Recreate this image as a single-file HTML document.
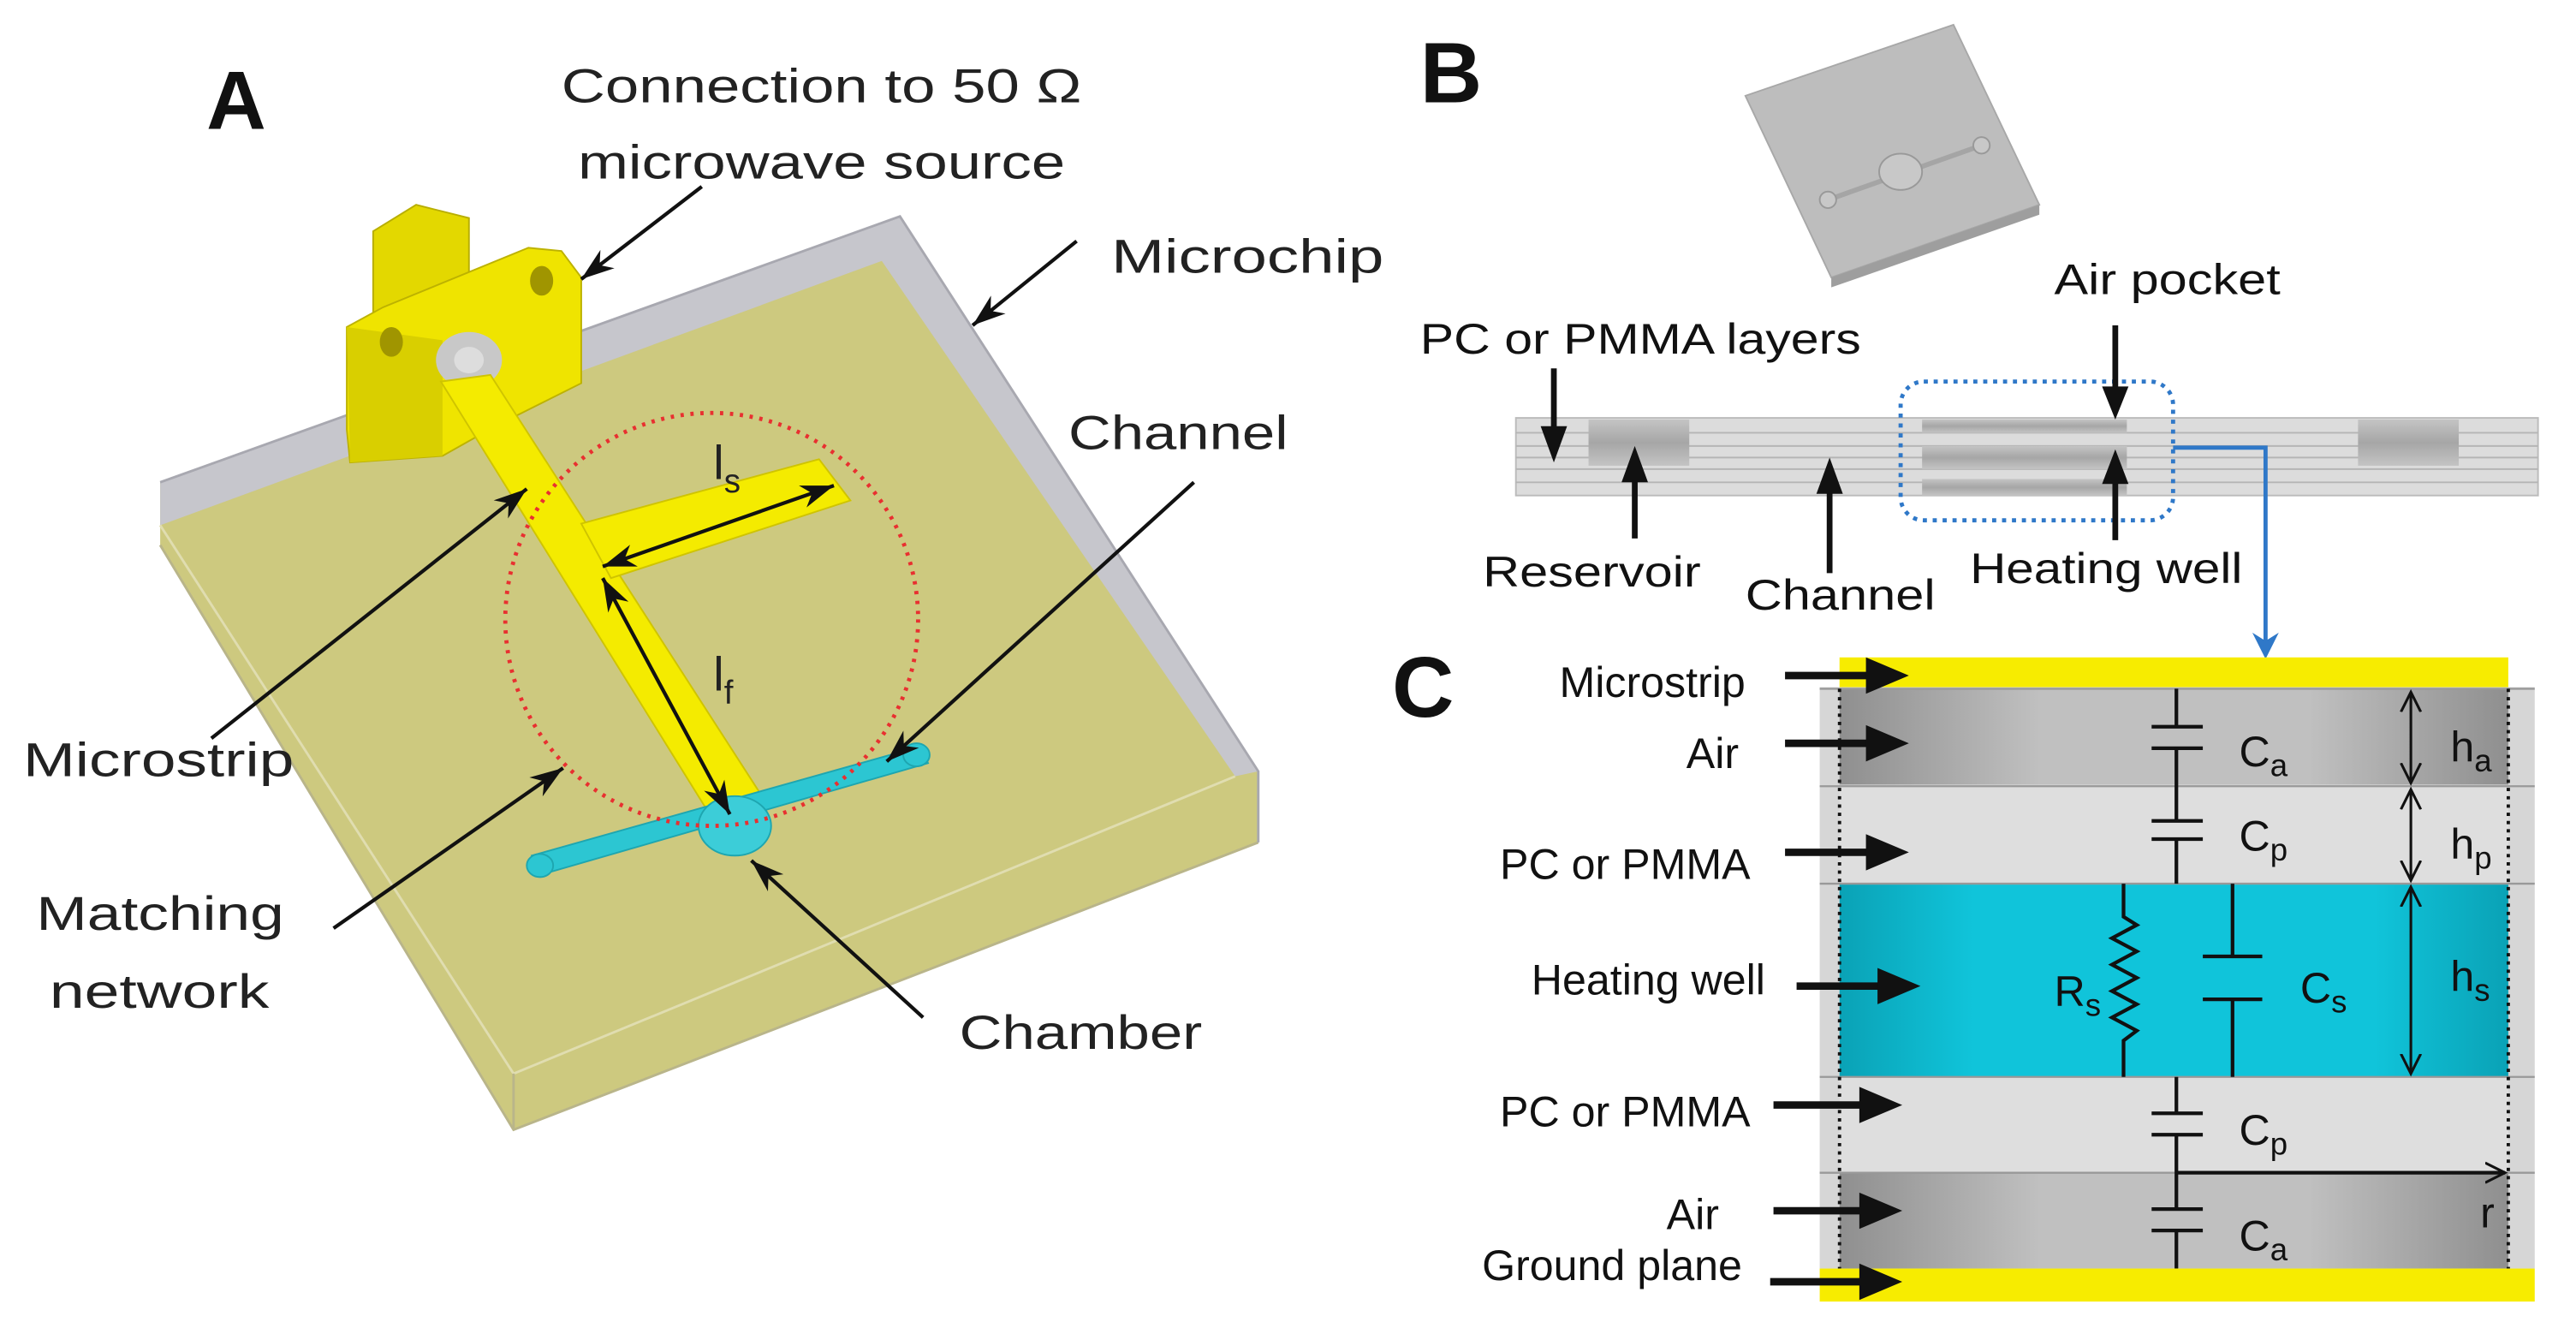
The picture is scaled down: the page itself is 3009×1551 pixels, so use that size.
<!DOCTYPE html>
<html><head><meta charset="utf-8"><style>
html,body{margin:0;padding:0;background:#fff}
svg{display:block}
.a{font-family:"Liberation Sans",sans-serif;font-size:29px;fill:#222}
.b{font-family:"Liberation Sans",sans-serif;font-size:26px;fill:#111}
</style></head><body>
<svg width="3009" height="1551" viewBox="0 0 1560 804" preserveAspectRatio="none" xmlns="http://www.w3.org/2000/svg">
<defs>
<marker id="ah" markerUnits="userSpaceOnUse" markerWidth="22" markerHeight="16" refX="20" refY="8" orient="auto"><path d="M0,1 L20,8 L0,15 L6,8 Z" fill="#111"/></marker>
<marker id="ah2" markerUnits="userSpaceOnUse" markerWidth="22" markerHeight="16" refX="20" refY="8" orient="auto-start-reverse"><path d="M0,1 L20,8 L0,15 L6,8 Z" fill="#111"/></marker>
<marker id="hv" markerUnits="userSpaceOnUse" markerWidth="14" markerHeight="14" refX="12" refY="7" orient="auto-start-reverse"><path d="M0,1 L12,7 L0,13" fill="none" stroke="#111" stroke-width="1.6"/></marker>
<marker id="bl" markerUnits="userSpaceOnUse" markerWidth="16" markerHeight="18" refX="8" refY="16" orient="0"><path d="M0,0 L8,16 L16,0 L8,5 Z" fill="#2f78c8"/></marker>
<linearGradient id="air" x1="0" x2="1"><stop offset="0" stop-color="#8f8f8f"/><stop offset="0.3" stop-color="#c0c0c0"/><stop offset="0.7" stop-color="#c0c0c0"/><stop offset="1" stop-color="#8f8f8f"/></linearGradient>
<linearGradient id="cy" x1="0" x2="1"><stop offset="0" stop-color="#0aa2b6"/><stop offset="0.2" stop-color="#10c4da"/><stop offset="0.8" stop-color="#10c4da"/><stop offset="1" stop-color="#0aa2b6"/></linearGradient>
<linearGradient id="res" x1="0" y1="0" x2="0" y2="1"><stop offset="0" stop-color="#c4c4c4"/><stop offset="0.5" stop-color="#a6a6a6"/><stop offset="1" stop-color="#c4c4c4"/></linearGradient>
</defs>

<!-- PANEL A -->
<text x="125" y="78" font-family="Liberation Sans,sans-serif" font-weight="bold" font-size="50" fill="#111">A</text>
<text class="a" x="340" y="62" textLength="315" lengthAdjust="spacingAndGlyphs">Connection to 50 Ω</text>
<text class="a" x="350" y="108" textLength="295" lengthAdjust="spacingAndGlyphs">microwave source</text>

<!-- chip -->
<polygon points="97,292 545,131 762,467 762,510 311,684 97,330" fill="#cdc97f"/>
<polygon points="97,292 545,131 762,467 748,470 534,158 97,318" fill="#c6c6cc"/>
<polyline points="97,330 311,684 762,510" fill="none" stroke="#b9b58a" stroke-width="1.5"/>
<polyline points="97,318 311,650 748,470" fill="none" stroke="#e0ddb0" stroke-width="1.5"/>
<line x1="311" y1="650" x2="311" y2="684" stroke="#b9b58a" stroke-width="1.5"/>
<polyline points="97,292 545,131 762,467 762,510" fill="none" stroke="#a8a8b0" stroke-width="1.5"/>

<!-- connector -->
<polygon points="226,140 252,124 284,132 284,190 258,200 226,190" fill="#e3d800" stroke="#b8ae00" stroke-width="1"/>
<polygon points="210,198 232,186 320,150 340,152 352,168 352,232 300,258 268,276 212,280 210,260" fill="#efe400" stroke="#bdb200" stroke-width="1"/>
<polygon points="210,198 268,206 268,276 212,280" fill="#d9cf00"/>
<ellipse cx="237" cy="207" rx="7" ry="9" fill="#a09500"/>
<ellipse cx="328" cy="170" rx="7" ry="9" fill="#a09500"/>
<ellipse cx="284" cy="218" rx="20" ry="17" fill="#c8c8c8"/>
<ellipse cx="284" cy="218" rx="9" ry="8" fill="#ddd"/>

<!-- microstrip -->
<polygon points="267,231 297,227 464,486 431,495" fill="#f4eb00" stroke="#cfc400" stroke-width="1"/>
<polygon points="352,317 496,278 515,303 370,350" fill="#f4eb00" stroke="#cfc400" stroke-width="1"/>
<!-- channel -->
<polygon points="322,518 557,452 562,462 326,530" fill="#2cc6d2" stroke="#1ea6b0" stroke-width="1"/>
<ellipse cx="327" cy="524" rx="8" ry="7" fill="#2cc6d2" stroke="#1ea6b0"/>
<ellipse cx="555" cy="457" rx="8" ry="7" fill="#2cc6d2" stroke="#1ea6b0"/>
<ellipse cx="445" cy="500" rx="22" ry="18" fill="#3ccdd8" stroke="#1ea6b0"/>

<circle cx="431" cy="375" r="125" fill="none" stroke="#e83030" stroke-width="2.5" stroke-dasharray="2,4"/>
<line x1="365" y1="343" x2="505" y2="294" stroke="#111" stroke-width="2.2" marker-start="url(#ah2)" marker-end="url(#ah2)"/>
<line x1="365" y1="350" x2="442" y2="493" stroke="#111" stroke-width="2.2" marker-start="url(#ah2)" marker-end="url(#ah2)"/>
<text class="a" x="432" y="290">l<tspan font-size="20" dy="8">s</tspan></text>
<text class="a" x="432" y="418">l<tspan font-size="20" dy="8">f</tspan></text>

<g stroke="#111" stroke-width="2.2" marker-end="url(#ah)">
<line x1="425" y1="113" x2="352" y2="169"/>
<line x1="652" y1="146" x2="589" y2="197"/>
<line x1="723" y1="292" x2="537" y2="461"/>
<line x1="128" y1="447" x2="319" y2="296"/>
<line x1="202" y1="562" x2="341" y2="465"/>
<line x1="559" y1="616" x2="455" y2="521"/>
</g>
<text class="a" x="673" y="165" textLength="165" lengthAdjust="spacingAndGlyphs">Microchip</text>
<text class="a" x="647" y="272" textLength="133" lengthAdjust="spacingAndGlyphs">Channel</text>
<text class="a" x="14" y="470" textLength="164" lengthAdjust="spacingAndGlyphs">Microstrip</text>
<text class="a" x="22" y="563" textLength="150" lengthAdjust="spacingAndGlyphs">Matching</text>
<text class="a" x="30" y="610" textLength="133" lengthAdjust="spacingAndGlyphs">network</text>
<text class="a" x="581" y="635" textLength="147" lengthAdjust="spacingAndGlyphs">Chamber</text>

<!-- PANEL B -->
<text x="860" y="62" font-family="Liberation Sans,sans-serif" font-weight="bold" font-size="52" fill="#111">B</text>
<polygon points="1057,58 1183,15 1235,124 1109,168" fill="#bdbdbd" stroke="#a8a8a8"/>
<polygon points="1109,168 1235,124 1235,130 1109,174" fill="#9e9e9e"/>
<line x1="1107" y1="121" x2="1200" y2="88" stroke="#a5a5a5" stroke-width="3"/>
<ellipse cx="1151" cy="104" rx="13" ry="11" fill="#c8c8c8" stroke="#999"/>
<ellipse cx="1107" cy="121" rx="5" ry="5" fill="#c8c8c8" stroke="#999"/>
<ellipse cx="1200" cy="88" rx="5" ry="5" fill="#c8c8c8" stroke="#999"/>

<rect x="918" y="253" width="619" height="47" fill="#dcdcdc" stroke="#bbb"/>
<g stroke="#b5b5b5" stroke-width="1">
<line x1="918" y1="262" x2="1537" y2="262"/><line x1="918" y1="270" x2="1537" y2="270"/>
<line x1="918" y1="277" x2="1537" y2="277"/><line x1="918" y1="284" x2="1537" y2="284"/>
<line x1="918" y1="292" x2="1537" y2="292"/>
</g>
<rect x="962" y="254" width="61" height="28" fill="url(#res)"/>
<rect x="1428" y="254" width="61" height="28" fill="url(#res)"/>
<rect x="1164" y="254" width="124" height="8" fill="url(#res)"/>
<rect x="1164" y="270" width="124" height="14" fill="url(#res)"/>
<rect x="1164" y="290" width="124" height="10" fill="url(#res)"/>
<rect x="1151" y="231" width="165" height="84" rx="14" fill="none" stroke="#2f78c8" stroke-width="2.5" stroke-dasharray="2.5,3.5"/>
<polyline points="1316,271 1372,271 1372,390" fill="none" stroke="#2f78c8" stroke-width="2.5"/>
<path d="M1364,383 L1372,399 L1380,383 L1372,388 Z" fill="#2f78c8"/>

<g stroke="#111" stroke-width="3.5">
<line x1="941" y1="223" x2="941" y2="262"/>
<line x1="1281" y1="197" x2="1281" y2="236"/>
<line x1="990" y1="326" x2="990" y2="288"/>
<line x1="1108" y1="347" x2="1108" y2="295"/>
<line x1="1281" y1="327" x2="1281" y2="290"/>
</g>
<g fill="#111">
<path d="M933,258 L941,280 L949,258 Z"/>
<path d="M1273,234 L1281,254 L1289,234 Z"/>
<path d="M982,292 L990,270 L998,292 Z"/>
<path d="M1100,299 L1108,277 L1116,299 Z"/>
<path d="M1273,293 L1281,272 L1289,293 Z"/>
</g>
<text class="b" x="1244" y="178" textLength="137" lengthAdjust="spacingAndGlyphs">Air pocket</text>
<text class="b" x="860" y="214" textLength="267" lengthAdjust="spacingAndGlyphs">PC or PMMA layers</text>
<text class="b" x="898" y="355" textLength="132" lengthAdjust="spacingAndGlyphs">Reservoir</text>
<text class="b" x="1057" y="369" textLength="115" lengthAdjust="spacingAndGlyphs">Channel</text>
<text class="b" x="1193" y="353" textLength="165" lengthAdjust="spacingAndGlyphs">Heating well</text>

<!-- PANEL C -->
<text x="843" y="434" font-family="Liberation Sans,sans-serif" font-weight="bold" font-size="52" fill="#111">C</text>
<rect x="1102" y="416" width="433" height="352" fill="#d6d6d6"/>
<rect x="1114" y="417" width="405" height="58" fill="url(#air)"/>
<rect x="1114" y="476" width="405" height="59" fill="#dedede"/>
<rect x="1114" y="535" width="405" height="117" fill="url(#cy)"/>
<rect x="1114" y="652" width="405" height="58" fill="#dedede"/>
<rect x="1114" y="710" width="405" height="58" fill="url(#air)"/>
<g stroke="#999" stroke-width="1.2">
<line x1="1102" y1="417" x2="1535" y2="417"/><line x1="1102" y1="476" x2="1535" y2="476"/>
<line x1="1102" y1="535" x2="1535" y2="535"/><line x1="1102" y1="652" x2="1535" y2="652"/>
<line x1="1102" y1="710" x2="1535" y2="710"/>
</g>
<rect x="1114" y="398" width="405" height="18" fill="#f7ec00"/>
<rect x="1102" y="768" width="433" height="20" fill="#f7ec00"/>
<g stroke="#111" stroke-width="2" stroke-dasharray="2,3">
<line x1="1114" y1="417" x2="1114" y2="768"/><line x1="1519" y1="417" x2="1519" y2="768"/>
</g>
<!-- circuit -->
<g stroke="#111" stroke-width="2.2" fill="none">
<line x1="1318" y1="417" x2="1318" y2="440"/><line x1="1303" y1="440" x2="1334" y2="440"/>
<line x1="1303" y1="453" x2="1334" y2="453"/><line x1="1318" y1="453" x2="1318" y2="497"/>
<line x1="1303" y1="497" x2="1334" y2="497"/><line x1="1303" y1="508" x2="1334" y2="508"/>
<line x1="1318" y1="508" x2="1318" y2="535"/>
<polyline points="1286,535 1286,555 1294,560 1279,568 1294,576 1279,584 1294,592 1279,600 1294,608 1279,616 1294,624 1286,630 1286,652"/>
<line x1="1352" y1="535" x2="1352" y2="579"/><line x1="1334" y1="579" x2="1370" y2="579"/>
<line x1="1334" y1="605" x2="1370" y2="605"/><line x1="1352" y1="605" x2="1352" y2="652"/>
<line x1="1318" y1="652" x2="1318" y2="674"/><line x1="1303" y1="674" x2="1334" y2="674"/>
<line x1="1303" y1="687" x2="1334" y2="687"/><line x1="1318" y1="687" x2="1318" y2="732"/>
<line x1="1303" y1="732" x2="1334" y2="732"/><line x1="1303" y1="745" x2="1334" y2="745"/>
<line x1="1318" y1="745" x2="1318" y2="768"/>
<line x1="1318" y1="710" x2="1517" y2="710" marker-end="url(#hv)"/>
<line x1="1460" y1="419" x2="1460" y2="474" stroke-width="1.6" marker-start="url(#hv)" marker-end="url(#hv)"/>
<line x1="1460" y1="478" x2="1460" y2="533" stroke-width="1.6" marker-start="url(#hv)" marker-end="url(#hv)"/>
<line x1="1460" y1="537" x2="1460" y2="650" stroke-width="1.6" marker-start="url(#hv)" marker-end="url(#hv)"/>
</g>
<g class="b" font-family="Liberation Sans,sans-serif" font-size="27" fill="#111">
<text x="1356" y="464">C<tspan font-size="19" dy="6">a</tspan></text>
<text x="1356" y="515">C<tspan font-size="19" dy="6">p</tspan></text>
<text x="1393" y="607">C<tspan font-size="19" dy="6">s</tspan></text>
<text x="1244" y="609">R<tspan font-size="19" dy="6">s</tspan></text>
<text x="1484" y="461">h<tspan font-size="19" dy="6">a</tspan></text>
<text x="1484" y="520">h<tspan font-size="19" dy="6">p</tspan></text>
<text x="1484" y="600">h<tspan font-size="19" dy="6">s</tspan></text>
<text x="1356" y="693">C<tspan font-size="19" dy="6">p</tspan></text>
<text x="1356" y="757">C<tspan font-size="19" dy="6">a</tspan></text>
<text x="1502" y="743">r</text>
</g>
<g font-family="Liberation Sans,sans-serif" font-size="26" fill="#111" text-anchor="end">
<text x="1057" y="422">Microstrip</text>
<text x="1053" y="465">Air</text>
<text x="1060" y="532">PC or PMMA</text>
<text x="1069" y="602">Heating well</text>
<text x="1060" y="682">PC or PMMA</text>
<text x="1041" y="744">Air</text>
<text x="1055" y="775">Ground plane</text>
</g>
<g stroke="#111" stroke-width="4.5">
<line x1="1081" y1="409" x2="1135" y2="409"/>
<line x1="1081" y1="450" x2="1135" y2="450"/>
<line x1="1081" y1="516" x2="1135" y2="516"/>
<line x1="1088" y1="597" x2="1142" y2="597"/>
<line x1="1074" y1="669" x2="1131" y2="669"/>
<line x1="1074" y1="733" x2="1131" y2="733"/>
<line x1="1072" y1="776" x2="1131" y2="776"/>
</g>
<g fill="#111">
<path d="M1130,398 L1156,409 L1130,420 Z"/>
<path d="M1130,439 L1156,450 L1130,461 Z"/>
<path d="M1130,505 L1156,516 L1130,527 Z"/>
<path d="M1137,586 L1163,597 L1137,608 Z"/>
<path d="M1126,658 L1152,669 L1126,680 Z"/>
<path d="M1126,722 L1152,733 L1126,744 Z"/>
<path d="M1126,765 L1152,776 L1126,787 Z"/>
</g>
</svg>
</body></html>
